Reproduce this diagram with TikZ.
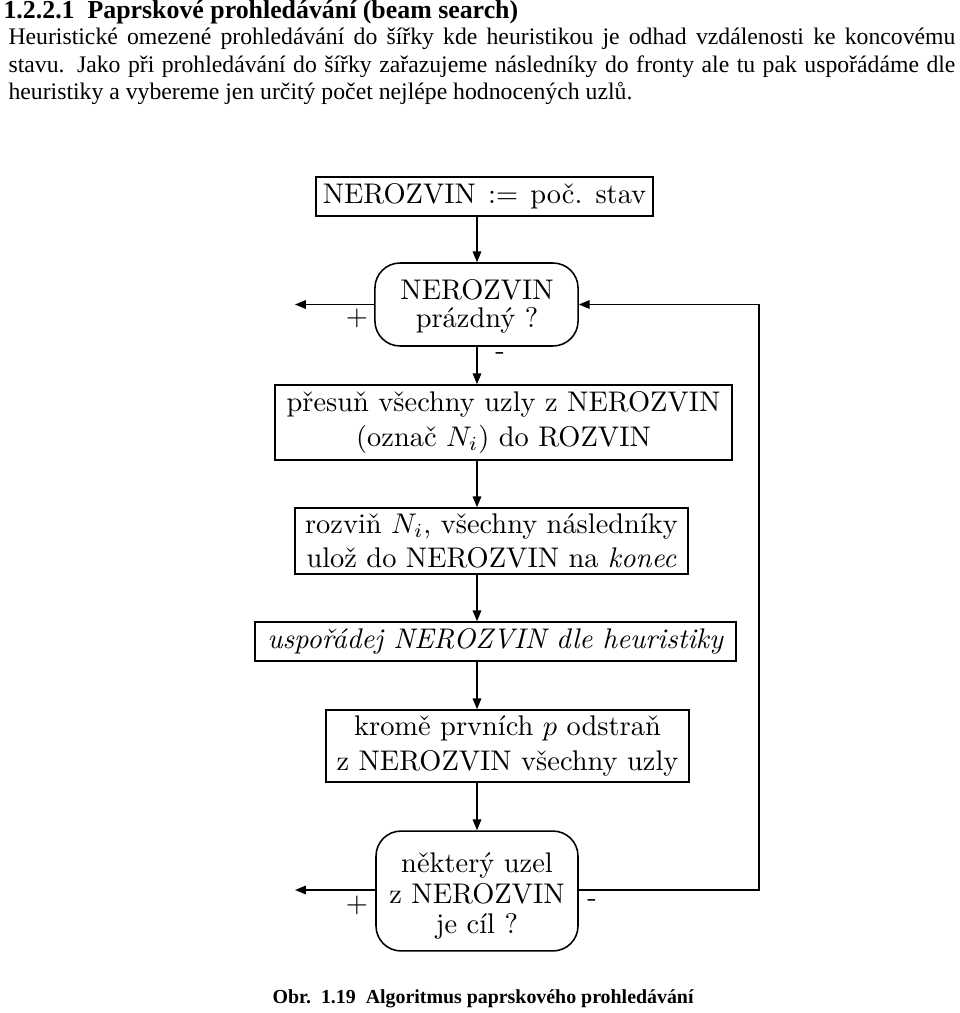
\documentclass[tikz,border=0pt]{standalone}
\usepackage{fontspec}
\newfontfamily\timesfont{Liberation Serif}
\usetikzlibrary{arrows.meta}
\tikzset{
  box/.style={draw, line width=0.55pt, inner sep=0pt, align=center, font=\normalsize},
  dec/.style={box, rounded corners=8.8pt},
  dtxt/.style={inner sep=0pt, align=center},
  arr/.style={line width=0.5pt, -{Triangle[length=3.8pt,width=3pt]}},
  lbl/.style={inner sep=0pt},
  hdr/.style={anchor=base west, inner sep=0pt},
}
\begin{document}
\begin{tikzpicture}[x=0.352pt,y=-0.352pt]
\useasboundingbox (0,0) rectangle (960,1013);
% header text
\node[hdr] (h0) at (3,18) {\timesfont\fontsize{9.1pt}{10pt}\selectfont\bfseries 1.2.2.1\ \ Paprskové prohledávání (beam search)};
\node[hdr] (h1) at (8,44) {\timesfont\fontsize{8.35pt}{9.5pt}\selectfont\makebox[333.3pt][s]{Heuristické omezené prohledávání do šířky kde heuristikou je odhad vzdálenosti ke koncovému}};
\node[hdr] (h2) at (8,72) {\timesfont\fontsize{8.35pt}{9.5pt}\selectfont\makebox[333.3pt][s]{stavu. Jako při prohledávání do šířky zařazujeme následníky do fronty ale tu pak uspořádáme dle}};
\node[hdr] (h3) at (8,99.5) {\timesfont\fontsize{8.35pt}{9.5pt}\selectfont heuristiky a vybereme jen určitý počet nejlépe hodnocených uzlů.};
% flowchart
\node[box, minimum width=118.6pt, minimum height=13.7pt] (b1) at (484.5,196.5) {NEROZVIN\hspace{4.3pt}:=\hspace{4.3pt}poč.\hspace{4.6pt}stav};
\node[dec, minimum width=71.5pt, minimum height=29.2pt] (d1) at (476.5,304.5) {};
\node[dtxt, font={\fontsize{10pt}{9.8pt}\selectfont}] (d1t) at (477,306) {NEROZVIN\\prázdný ?};
\node[box, minimum width=160.9pt, minimum height=26.4pt] (b2) at (503.5,422.5) {přesuň všechny uzly z NEROZVIN\\(označ $N_i$) do ROZVIN};
\node[box, minimum width=138.3pt, minimum height=23.2pt] (b3) at (491.5,541) {rozviň $N_i$, všechny následníky\\ulož do NEROZVIN na \textit{konec}};
\node[box, minimum width=169.3pt, minimum height=13.7pt] (b4) at (495.5,641.5) {\textit{uspořádej NEROZVIN dle heuristiky}};
\node[box, minimum width=127.8pt, minimum height=25.3pt] (b5) at (507.5,746) {kromě prvních $p$ odstraň\\z NEROZVIN všechny uzly};
\node[dec, minimum width=71.1pt, minimum height=42.2pt] (d2) at (477,891) {};
\node[dtxt, font={\fontsize{10pt}{10.7pt}\selectfont}] (d2t) at (477,896) {některý uzel\\z NEROZVIN\\je cíl ?};
\coordinate (ax) at (477,0);
\coordinate (loopx) at (759,0);
\coordinate (out1) at (295,304.5);
\coordinate (out2) at (295,890);
\draw[arr] (b1.south -| ax) -- (d1.north -| ax);
\draw[arr] (d1.south -| ax) -- (b2.north -| ax);
\draw[arr] (b2.south -| ax) -- (b3.north -| ax);
\draw[arr] (b3.south -| ax) -- (b4.north -| ax);
\draw[arr] (b4.south -| ax) -- (b5.north -| ax);
\draw[arr] (b5.south -| ax) -- (d2.north -| ax);
\draw[arr] (d1.west) -- (out1);
\draw[arr] (d2.west |- out2) -- (out2);
\draw[arr] (d2.east |- out2) -- (loopx |- out2) -- (loopx |- d1.east) -- (d1.east);
\node[lbl] (p1) at (357,318) {$+$};
\node[lbl] (m1) at (500,356) {-};
\node[lbl] (p2) at (357,905) {$+$};
\node[lbl] (m2) at (592,903) {-};
% caption
\node[hdr] (cap) at (272,1003) {\timesfont\fontsize{7pt}{8pt}\selectfont\bfseries Obr.\ \ 1.19\ \ Algoritmus paprskového prohledávání};
\end{tikzpicture}
\end{document}
